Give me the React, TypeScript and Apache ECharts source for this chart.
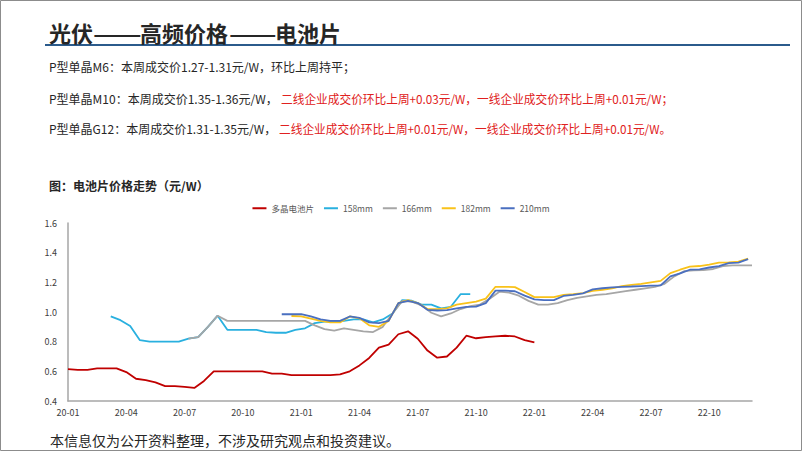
import React, { useEffect, useRef } from "react";
import * as echarts from "echarts";

// x positions are months since 2020-01; each series sampled every half month
const seriesNames = ["多晶电池片", "158mm", "166mm", "182mm", "210mm"];
const seriesColors = ["#C00000", "#29B0DF", "#A6A6A6", "#F9C21A", "#4A6FC0"];
const stepMonths = 0.5;

const polyStart = 0;
const polyValues = [
  0.615, 0.61, 0.61, 0.62, 0.62, 0.62, 0.595, 0.55, 0.54, 0.525, 0.5, 0.5, 0.495, 0.488,
  0.535, 0.6, 0.6, 0.6, 0.6, 0.6, 0.6, 0.585, 0.585, 0.575, 0.575, 0.575, 0.575, 0.575,
  0.58, 0.6, 0.64, 0.69, 0.76, 0.78, 0.85, 0.87, 0.82, 0.74, 0.692, 0.7, 0.76, 0.84,
  0.823, 0.83, 0.835, 0.84, 0.835, 0.81, 0.795,
];

const m158Start = 2.2;
const m158Values = [
  0.97, 0.945, 0.905, 0.81, 0.8, 0.8, 0.8, 0.8, 0.82, 0.83, 0.9, 0.975, 0.88, 0.88, 0.88,
  0.88, 0.865, 0.86, 0.86, 0.88, 0.89, 0.925, 0.935, 0.935, 0.94, 0.95, 0.95, 0.93, 0.95,
  0.99, 1.08, 1.076, 1.05, 1.05, 1.025, 1.035, 1.12, 1.12,
];

const m166Start = 6.2;
const m166Values = [
  0.82, 0.83, 0.9, 0.975, 0.94, 0.94, 0.94, 0.94, 0.94, 0.94, 0.94, 0.94, 0.94, 0.91,
  0.885, 0.875, 0.89, 0.88, 0.87, 0.865, 0.9, 0.99, 1.074, 1.07, 1.045, 0.995, 0.97, 0.99,
  1.02, 1.04, 1.05, 1.09, 1.137, 1.13, 1.11, 1.075, 1.05, 1.05, 1.06, 1.08, 1.095, 1.105,
  1.115, 1.12, 1.13, 1.14, 1.15, 1.16, 1.17, 1.19, 1.24, 1.275, 1.28, 1.283, 1.29, 1.31,
  1.315, 1.315, 1.315,
];

const m182Start = 11.5;
const m182Values = [
  0.973, 0.97, 0.955, 0.94, 0.93, 0.93, 0.97, 0.957, 0.91, 0.9, 0.94, 1.06, 1.08, 1.06,
  1.02, 1.02, 1.025, 1.05, 1.06, 1.07, 1.09, 1.17, 1.17, 1.168, 1.135, 1.1, 1.1, 1.1, 1.115,
  1.12, 1.127, 1.142, 1.15, 1.16, 1.175, 1.183, 1.19, 1.2, 1.21, 1.262, 1.285, 1.306, 1.31,
  1.32, 1.333, 1.335, 1.34, 1.36,
];

const m210Start = 11.0;
const m210Values = [
  0.985, 0.985, 0.985, 0.97, 0.95, 0.94, 0.94, 0.97, 0.96, 0.93, 0.925, 0.94, 1.06, 1.075,
  1.06, 1.015, 1.01, 1.012, 1.025, 1.035, 1.036, 1.06, 1.144, 1.144, 1.14, 1.11, 1.085, 1.08,
  1.08, 1.108, 1.115, 1.126, 1.153, 1.16, 1.166, 1.17, 1.172, 1.175, 1.178, 1.18, 1.24, 1.26,
  1.285, 1.288, 1.3, 1.31, 1.33, 1.333, 1.357,
];

const yTicks = [0.4, 0.6, 0.8, 1.0, 1.2, 1.4, 1.6];

const titleParts = ["光伏", "——", "高频价格", "——", "电池片"];
const line1 = "P型单晶M6：本周成交价1.27-1.31元/W，环比上周持平；";
const line2Black = "P型单晶M10：本周成交价1.35-1.36元/W，";
const line2Red = "二线企业成交价环比上周+0.03元/W，一线企业成交价环比上周+0.01元/W；";
const line3Black = "P型单晶G12：本周成交价1.31-1.35元/W，";
const line3Red = "二线企业成交价环比上周+0.01元/W，一线企业成交价环比上周+0.01元/W。";
const chartTitle = "图：电池片价格走势（元/W）";
const footer = "本信息仅为公开资料整理，不涉及研究观点和投资建议。";

const FONT = '"Noto Sans CJK SC", "Noto Sans", sans-serif';

function toPairs(start: number, values: number[]) {
  return values.map((v, i) => [start + i * stepMonths, v]);
}

export default function App() {
  const ref = useRef<HTMLDivElement>(null);
  useEffect(() => {
    if (!ref.current) return;
    const chart = echarts.init(ref.current, undefined, { renderer: "svg" });
    const starts = [polyStart, m158Start, m166Start, m182Start, m210Start];
    const vals = [polyValues, m158Values, m166Values, m182Values, m210Values];
    const txt = (
      text: string,
      x: number,
      y: number,
      size: number,
      fill: string,
      weight = "normal",
      scaleX = 1
    ) => ({
      type: "text",
      x,
      y,
      scaleX,
      style: { text, fill, font: `${weight} ${size}px ${FONT}`, verticalAlign: "middle", align: "left" },
    });
    const titleX = [49, 93, 140, 229, 275];
    const titleScale = [1, 1.3, 1, 1.27, 1];
    chart.setOption({
      animation: false,
      textStyle: { fontFamily: FONT },
      grid: { left: 68, right: 50, top: 223, bottom: 50, containLabel: false },
      legend: {
        data: seriesNames,
        top: 199,
        left: "center",
        icon: "rect",
        itemWidth: 14,
        itemHeight: 2,
        itemGap: 10,
        textStyle: { fontSize: 8.5, color: "#595959", fontFamily: FONT },
      },
      xAxis: {
        type: "value",
        min: 0,
        max: 35.2,
        interval: 3,
        axisLine: { lineStyle: { color: "#A6A6A6", width: 1.5 } },
        axisTick: { show: false },
        splitLine: { show: false },
        axisLabel: {
          showMaxLabel: false,
          fontSize: 9,
          color: "#404040",
          margin: 7,
          formatter: (v: number) => {
            if (Math.abs(v % 3) > 1e-6) return "";
            const y = 20 + Math.floor(v / 12);
            const m = (v % 12) + 1;
            return `${y}-${m < 10 ? "0" + m : m}`;
          },
        },
      },
      yAxis: {
        type: "value",
        min: yTicks[0],
        max: yTicks[yTicks.length - 1],
        interval: 0.2,
        axisLine: { show: true, lineStyle: { color: "#A6A6A6", width: 1.5 } },
        axisTick: { show: false },
        splitLine: { show: false },
        axisLabel: { fontSize: 9, color: "#404040", margin: 11, formatter: (v: number) => v.toFixed(1) },
      },
      series: seriesNames.map((name, i) => ({
        name,
        type: "line",
        data: toPairs(starts[i], vals[i]),
        showSymbol: false,
        symbol: "none",
        lineStyle: { width: 1.8, color: seriesColors[i] },
        itemStyle: { color: seriesColors[i] },
      })),
      graphic: [
        {
          type: "rect",
          shape: { x: 0.5, y: 0.5, width: 801, height: 450 },
          style: { fill: "none", stroke: "#8C8C8C", lineWidth: 1 },
        },
        {
          type: "rect",
          shape: { x: 45, y: 44, width: 745, height: 2 },
          style: { fill: "#2B5B8C" },
        },
        ...titleParts.map((t, i) => txt(t, titleX[i], 32, 22, "#262626", "bold", titleScale[i])),
        txt(line1, 49, 66, 12, "#262626"),
        txt(line2Black, 49, 98, 12, "#262626"),
        txt(line2Red, 281, 98, 12, "#E02020", "normal", 0.975),
        txt(line3Black, 49, 128, 12, "#262626"),
        txt(line3Red, 279, 128, 12, "#E02020", "normal", 0.975),
        txt(chartTitle, 49, 185, 12, "#262626", "bold"),
        txt(footer, 50, 440, 14, "#262626"),
      ],
    });
    return () => chart.dispose();
  }, []);
  return (
    <div
      ref={ref}
      style={{ position: "fixed", left: 0, top: 0, width: 802, height: 451, background: "#fff" }}
    />
  );
}
